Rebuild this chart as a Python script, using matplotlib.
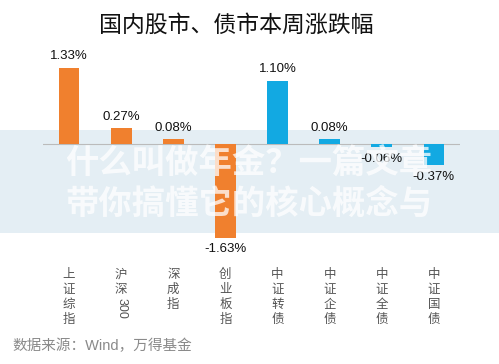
import matplotlib
matplotlib.use("Agg")
import matplotlib.pyplot as plt
from matplotlib.patches import Rectangle

plt.rcParams['font.family'] = ['Liberation Sans', 'Noto Sans CJK SC', 'DejaVu Sans']

# data
names = ["上证综指", "沪深300", "深成指", "创业板指", "中证转债", "中证企债", "中证全债", "中证国债"]
changes = [1.33, 0.27, 0.08, -1.63, 1.10, 0.08, -0.06, -0.37]
labels = ["1.33%", "0.27%", "0.08%", "-1.63%", "1.10%", "0.08%", "-0.06%", "-0.37%"]
colors = ["#F0802E"] * 4 + ["#12A9E2"] * 4

W, H = 499, 364
fig = plt.figure(figsize=(W / 100, H / 100), dpi=100)
fig.patch.set_facecolor("white")

# light band of the overlaid watermark (behind the chart)
fig.patches.append(Rectangle((0, 1 - 233 / H), 1, 103 / H, transform=fig.transFigure,
                             facecolor="#E4EEF4", edgecolor="none", zorder=-1))

ax = fig.add_axes([43 / W, (H - 250) / H, (460 - 43) / W, 190 / H])
ax.set_zorder(1)
ax.set_facecolor("none")
x = list(range(len(names)))
ax.bar(x, changes, width=0.4, color=colors, zorder=2)
ax.axhline(0, color="#BBBBBB", lw=0.8, zorder=1)
ax.set_xlim(-0.5, 7.5)
ax.set_ylim(-1.843, 1.461)
ax.axis("off")

for xi, v, lab in zip(x, changes, labels):
    ax.annotate(lab, (xi, v), xytext=(0, 4 if v >= 0 else -4), textcoords="offset points",
                ha="center", va="bottom" if v >= 0 else "top", fontsize=9.5, color="#111111")

# vertical category names
tr = ax.get_xaxis_transform()
for xi, n in zip(x, names):
    if n == "沪深300":
        ax.text(xi, -18 / 190, "沪\n深", transform=tr, ha="center", va="top",
                fontsize=9, color="#555555", linespacing=1.2, family="Noto Sans CJK SC")
        ax.text(xi, -48 / 190, "300", transform=tr, ha="center", va="top", rotation=270,
                fontsize=9, color="#555555")
    else:
        ax.text(xi, -18 / 190, "\n".join(n), transform=tr, ha="center", va="top",
                fontsize=9, color="#555555", linespacing=1.2, family="Noto Sans CJK SC")

fig.text(236 / W, 1 - 25 / H, "国内股市、债市本周涨跌幅", ha="center", va="center",
         fontsize=16.5, color="#111111", family="Noto Sans CJK SC")
fig.text(12 / W, 1 - 346 / H, "数据来源：Wind，万得基金", ha="left", va="center",
         fontsize=10.5, color="#8A8A8A")

# watermark text laid over the picture
for yy, line in [(164, "什么叫做年金？一篇文章"), (204, "带你搞懂它的核心概念与")]:
    fig.text(65 / W, 1 - yy / H, line, ha="left", va="center", fontsize=24,
             fontweight="bold", color="white", alpha=0.75, family="Noto Sans CJK SC", zorder=5)

fig.savefig("out.png", dpi=100)
